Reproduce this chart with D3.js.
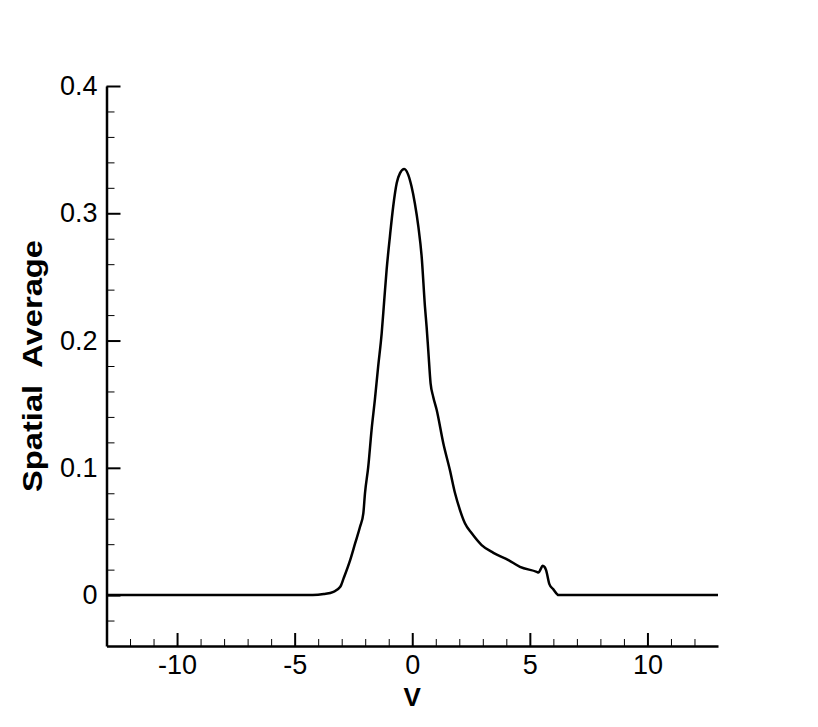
<!DOCTYPE html>
<html>
<head>
<meta charset="utf-8">
<script src="https://cdn.jsdelivr.net/npm/d3@7"></script>
<style>
  html, body { margin: 0; padding: 0; background: #fff; }
  svg { display: block; }
  text { font-family: "Liberation Sans", Arial, Helvetica, sans-serif; fill: #000; }
</style>
</head>
<body>
<svg id="chart" width="818" height="727"></svg>
<script>
// ---- data ----
const vValues = [-13, -4.23, -3.76, -3.35, -3.06, -2.92, -2.64, -2.43, -2.22, -2.08, -2.01, -1.87,
  -1.73, -1.59, -1.45, -1.30, -1.19, -1.09, -0.95, -0.81, -0.66, -0.52, -0.34, -0.17, -0.03,
  0.11, 0.26, 0.40, 0.54, 0.61, 0.68, 0.78, 0.89, 1.04, 1.32, 1.60, 1.82, 2.03, 2.24, 2.53,
  2.95, 3.45, 4.09, 4.58, 5.29, 5.37, 5.46, 5.54, 5.63, 5.69, 5.83, 6.00, 6.22, 13];
const avgValues = [0, 0, 0.0008, 0.0026, 0.0065, 0.0131, 0.0275, 0.0406, 0.0537, 0.0642, 0.080, 0.1009,
  0.1297, 0.1533, 0.1795, 0.2057, 0.2319, 0.2555, 0.2817, 0.3053, 0.3237, 0.3315, 0.3347, 0.3302, 0.3210,
  0.3079, 0.2895, 0.2660, 0.2267, 0.2109, 0.1926, 0.1664, 0.1559, 0.1454, 0.1193, 0.0983, 0.0800, 0.0668, 0.0564, 0.0485,
  0.0393, 0.0332, 0.0275, 0.0222, 0.0183, 0.0177, 0.0204, 0.0230, 0.0220, 0.0196, 0.0086, 0.0045, 0, 0];

const xMajorTicks = [-10, -5, 0, 5, 10];
const xMinorTicks = [-12, -11, -9, -8, -7, -6, -4, -3, -2, -1, 1, 2, 3, 4, 6, 7, 8, 9, 11, 12];
const yMajorTicks = [0, 0.1, 0.2, 0.3, 0.4];
const yMinorTicks = [-0.02, 0.02, 0.04, 0.06, 0.08, 0.12, 0.14, 0.16, 0.18, 0.22, 0.24, 0.26, 0.28, 0.32, 0.34, 0.36, 0.38];
const xDomain = [-13, 13];
const yDomain = [-0.04, 0.4];
const xTitle = "V";
const yTitle = "Spatial  Average";

// ---- layout ----
const svg = d3.select("#chart");
const plotLeft = 106.5, plotRight = 718, plotTop = 86, plotBottom = 646;

const x = d3.scaleLinear().domain(xDomain).range([plotLeft, plotRight]);
const y = d3.scaleLinear().domain(yDomain).range([plotBottom, plotTop]);

const fmt = v => String(v);

// X axis
const gx = svg.append("g").attr("transform", `translate(0,${plotBottom})`);
gx.call(d3.axisBottom(x).tickValues(xMajorTicks).tickSizeInner(-13).tickSizeOuter(0)
  .tickPadding(9).tickFormat(fmt));
const gxm = svg.append("g").attr("transform", `translate(0,${plotBottom})`);
gxm.call(d3.axisBottom(x).tickValues(xMinorTicks).tickSizeInner(-7).tickSizeOuter(0).tickFormat(""));
gxm.select(".domain").remove();

// Y axis
const gy = svg.append("g").attr("transform", `translate(${plotLeft},0)`);
gy.call(d3.axisLeft(y).tickValues(yMajorTicks).tickSizeInner(-14).tickSizeOuter(0)
  .tickPadding(9).tickFormat(fmt));
const gym = svg.append("g").attr("transform", `translate(${plotLeft},0)`);
gym.call(d3.axisLeft(y).tickValues(yMinorTicks).tickSizeInner(-8).tickSizeOuter(0).tickFormat(""));
gym.select(".domain").remove();

[gx, gy].forEach(g => {
  g.select(".domain").attr("stroke", "#000").attr("stroke-width", 2.5);
  g.selectAll(".tick line").attr("stroke", "#000").attr("stroke-width", 2);
  g.selectAll(".tick text").style("font-size", "27px").attr("fill", "#000");
});
[gxm, gym].forEach(g => {
  g.selectAll(".tick line").attr("stroke", "#000").attr("stroke-width", 1);
});

// Curve
const line = d3.line()
  .x((d, i) => x(vValues[i]))
  .y((d, i) => y(avgValues[i]))
  .curve(d3.curveMonotoneX);

svg.append("path")
  .datum(avgValues)
  .attr("d", line)
  .attr("fill", "none")
  .attr("stroke", "#000")
  .attr("stroke-width", 2.5)
  .attr("stroke-linejoin", "round");

// Titles
svg.append("text")
  .attr("x", x(0))
  .attr("y", 706)
  .attr("text-anchor", "middle")
  .style("font-size", "26px")
  .style("font-weight", "bold")
  .text(xTitle);

svg.append("text")
  .attr("transform", "translate(42,366) rotate(-90)")
  .attr("text-anchor", "middle")
  .style("font-size", "27px")
  .style("font-weight", "bold")
  .style("white-space", "pre")
  .attr("xml:space", "preserve")
  .attr("textLength", 252)
  .attr("lengthAdjust", "spacingAndGlyphs")
  .text(yTitle);
</script>
</body>
</html>
